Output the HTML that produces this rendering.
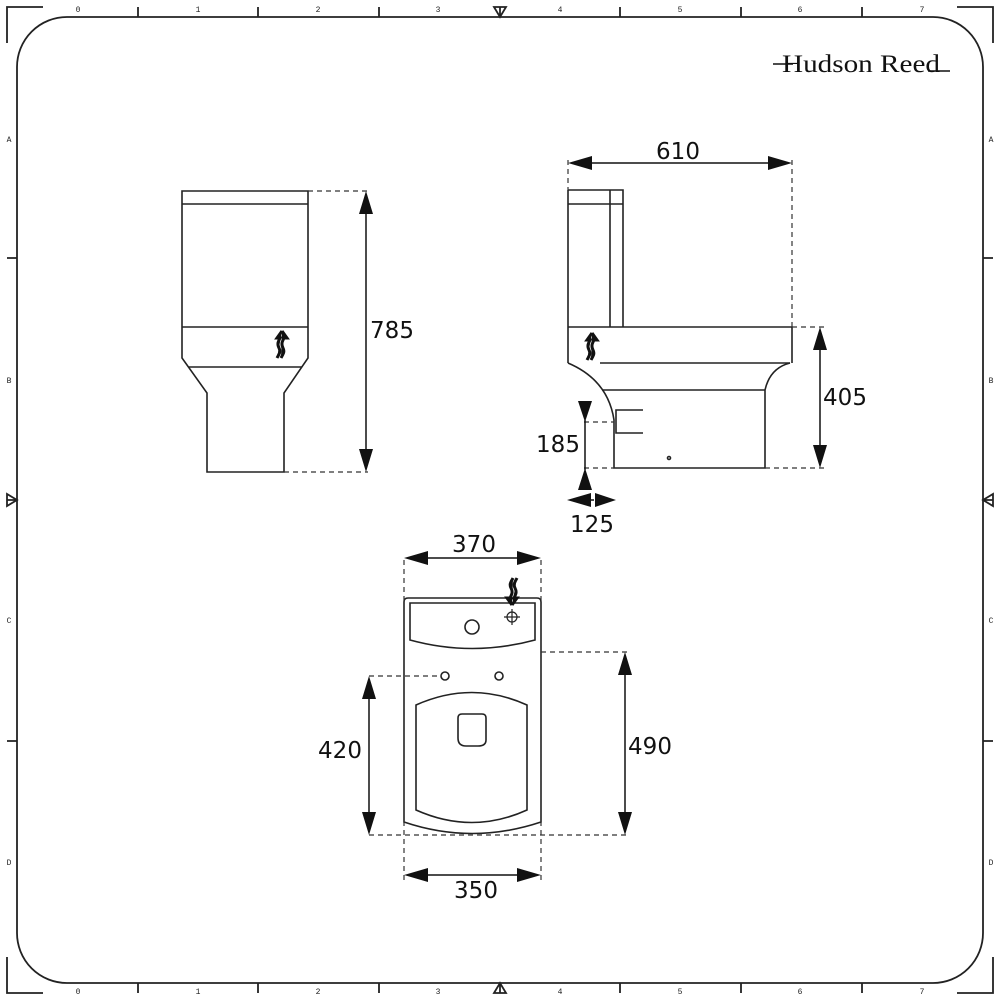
<!DOCTYPE html>
<html><head><meta charset="utf-8"><style>
html,body{margin:0;padding:0;background:#fff}
svg{display:block}
.n{font-family:"DejaVu Sans","Liberation Sans",sans-serif}
</style></head><body>
<svg width="1000" height="1000" viewBox="0 0 1000 1000" xmlns="http://www.w3.org/2000/svg">
<defs>
<g id="wave"><path d="M0,0 l-5,7 h3 c-2,4 -3,6 -1,10 c2,4 0,6 -2,10 M0,0 l5,7 h-3 c-2,4 -3,6 -1,10 c2,4 0,6 -2,10" fill="#111" stroke="#111" stroke-width="3"/></g>
</defs>
<g fill="none" stroke="#222" stroke-width="1.8">
<rect x="17" y="17" width="966" height="966" rx="50"/>
<path d="M7,43 V7 H43 M957,7 H993 V43 M7,957 V993 H43 M957,993 H993 V957"/>
<path d="M138,7 V17 M258,7 V17 M379,7 V17 M620,7 V17 M741,7 V17 M862,7 V17"/>
<path d="M138,983 V993 M258,983 V993 M379,983 V993 M620,983 V993 M741,983 V993 M862,983 V993"/>
<path d="M7,258 H17 M7,741 H17 M983,258 H993 M983,741 H993"/>
<path d="M500,7 V17 M494,7 L506,7 L500,17 Z M500,993 V983 M494,993 L506,993 L500,983 Z"/>
<path d="M7,500 H17 M7,494 V506 L17,500 Z M993,500 H983 M993,494 V506 L983,500 Z"/>
</g>
<g font-size="8" fill="#222" text-anchor="middle" style="font-family:'Liberation Mono',monospace">
<text x="78" y="12">0</text><text x="198" y="12">1</text><text x="318" y="12">2</text><text x="438" y="12">3</text><text x="560" y="12">4</text><text x="680" y="12">5</text><text x="800" y="12">6</text><text x="922" y="12">7</text>
<text x="78" y="994">0</text><text x="198" y="994">1</text><text x="318" y="994">2</text><text x="438" y="994">3</text><text x="560" y="994">4</text><text x="680" y="994">5</text><text x="800" y="994">6</text><text x="922" y="994">7</text>
<text x="9" y="142">A</text><text x="9" y="383">B</text><text x="9" y="623">C</text><text x="9" y="865">D</text>
<text x="991" y="142">A</text><text x="991" y="383">B</text><text x="991" y="623">C</text><text x="991" y="865">D</text>
</g>
<text x="782" y="72" style="font-family:'Liberation Serif',serif" font-size="25" fill="#111" textLength="158" lengthAdjust="spacingAndGlyphs">Hudson Reed</text>
<path d="M773,64 H793 M928,71 H950" stroke="#111" stroke-width="1.5"/>

<!-- front view -->
<g fill="none" stroke="#222" stroke-width="1.6">
<path d="M182,191 H308 V358 L284,393 V472 H207 V393 L182,358 Z"/>
<path d="M182,204 H308 M182,327 H308 M189,367 H302"/>
</g>
<use href="#wave" x="282" y="331"/>
<g stroke="#333" stroke-width="1.2" stroke-dasharray="5,4" fill="none">
<path d="M308,191 H368 M284,472 H368"/>
</g>
<path d="M366,212 V451" stroke="#111" stroke-width="1.5"/>
<path d="M366,191 L359,214 L373,214 Z M366,472 L359,449 L373,449 Z" fill="#111"/>
<g class="n" font-size="23" text-anchor="middle" fill="#111">
<text x="392" y="338">785</text>
<text x="678" y="159">610</text>
<text x="845" y="405">405</text>
<text x="558" y="452">185</text>
<text x="592" y="532">125</text>
<text x="474" y="552">370</text>
<text x="476" y="898">350</text>
<text x="340" y="758">420</text>
<text x="650" y="754">490</text>
</g>

<!-- side view -->
<g fill="none" stroke="#222" stroke-width="1.6">
<path d="M568,190 H623 V327 M610,190 V327 M568,204 H623 M568,190 V363"/>
<path d="M568,327 H792 V363 M600,363 H790"/>
<path d="M568,363 Q608,380 614,420 V468 H765 V390 Q770,368 790,363"/>
<path d="M602,390 H765 M643,410 H616 V433 H643"/>
<circle cx="669" cy="458" r="1.5"/>
</g>
<use href="#wave" x="592" y="333"/>
<g stroke="#333" stroke-width="1.2" stroke-dasharray="5,4" fill="none">
<path d="M568,160 V190 M792,160 V327 M792,327 H828 M765,468 H828 M584,422 H614 M584,468 H614"/>
</g>
<path d="M590,163 H770 M820,349 V446 M585,420 V470 M590,500 H594" stroke="#111" stroke-width="1.5" fill="none"/>
<path d="M568,163 L592,156 L592,170 Z M792,163 L768,156 L768,170 Z M820,327 L813,350 L827,350 Z M820,468 L813,445 L827,445 Z M585,422 L578,401 L592,401 Z M585,468 L578,490 L592,490 Z M567,500 L591,493 L591,507 Z M616,500 L595,493 L595,507 Z" fill="#111"/>

<!-- plan view -->
<g fill="none" stroke="#222" stroke-width="1.6">
<path d="M408,598 H537 Q541,598 541,602 V822 Q472,845 404,822 V602 Q404,598 408,598 Z"/>
<path d="M410,603 H535 V640 Q472,657 410,640 Z"/>
<circle cx="472" cy="627" r="7"/>
<circle cx="445" cy="676" r="4"/><circle cx="499" cy="676" r="4"/>
<path d="M416,705 Q472,680 527,705 V810 Q472,835 416,810 Z"/>
<path d="M462,714 H482 Q486,714 486,718 V740 Q486,746 478,746 H466 Q458,746 458,738 V718 Q458,714 462,714 Z"/>
</g>
<g stroke="#222" stroke-width="1.2" fill="none">
<circle cx="512" cy="617" r="5"/><path d="M504,617 H520 M512,609 V625"/>
</g>
<g transform="translate(512,605) rotate(180)"><use href="#wave" x="0" y="0"/></g>
<g stroke="#333" stroke-width="1.2" stroke-dasharray="5,4" fill="none">
<path d="M404,560 V880 M541,560 V880 M541,652 H627 M369,676 H441 M369,835 H627"/>
</g>
<path d="M426,558 H519 M426,875 H519 M369,698 V813 M625,674 V813" stroke="#111" stroke-width="1.5" fill="none"/>
<path d="M404,558 L428,551 L428,565 Z M541,558 L517,551 L517,565 Z M404,875 L428,868 L428,882 Z M541,875 L517,868 L517,882 Z M369,676 L362,699 L376,699 Z M369,835 L362,812 L376,812 Z M625,652 L618,675 L632,675 Z M625,835 L618,812 L632,812 Z" fill="#111"/>
</svg>
</body></html>
